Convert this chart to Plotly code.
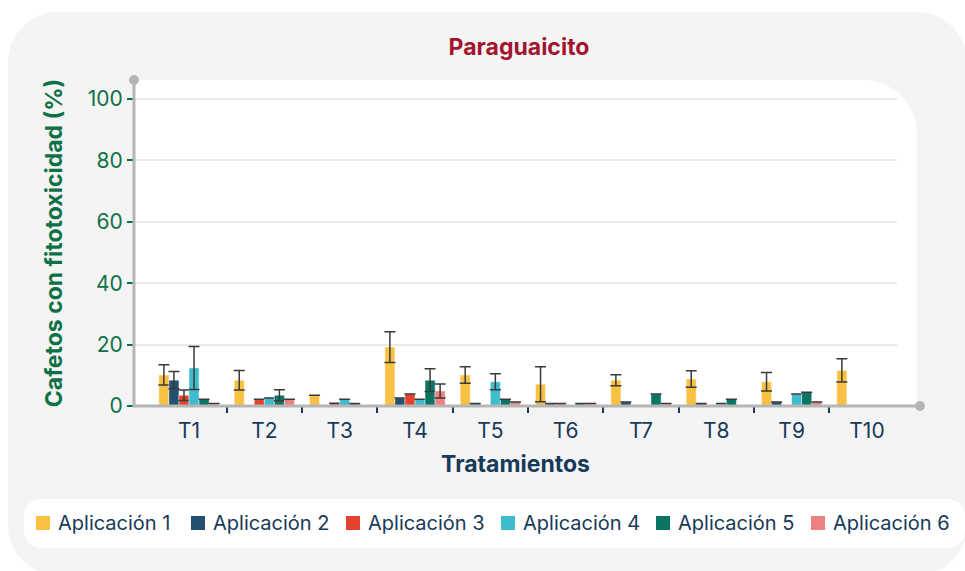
import plotly.graph_objects as go

# ---------------- data ----------------
categories = ["T1", "T2", "T3", "T4", "T5", "T6", "T7", "T8", "T9", "T10"]
series_names = ["Aplicación 1", "Aplicación 2", "Aplicación 3",
                "Aplicación 4", "Aplicación 5", "Aplicación 6"]

aplicacion_1 = [10.1, 8.4, 3.5, 19.2, 10.1, 7.1, 8.4, 8.8, 7.9, 11.6]
aplicacion_2 = [8.4, 0.0, 0.0, 2.6, 0.8, 0.8, 1.3, 0.8, 1.3, 0.0]
aplicacion_3 = [3.5, 2.2, 0.9, 3.9, 0.0, 0.8, 0.0, 0.0, 0.0, 0.0]
aplicacion_4 = [12.4, 2.6, 2.2, 2.2, 7.9, 0.0, 0.0, 0.8, 3.9, 0.0]
aplicacion_5 = [2.2, 3.5, 0.8, 8.4, 2.2, 0.8, 3.9, 2.2, 4.5, 0.0]
aplicacion_6 = [0.8, 2.2, 0.0, 4.9, 1.3, 0.8, 0.8, 0.0, 1.3, 0.0]

error_1 = [3.3, 3.2, None, 5.0, 2.7, 5.7, 1.8, 2.7, 3.0, 3.8]
error_2 = [2.8, None, None, None, None, None, None, None, None, None]
error_3 = [1.7, None, None, None, None, None, None, None, None, None]
error_4 = [7.0, None, None, None, 2.6, None, None, None, None, None]
error_5 = [None, 1.8, None, 3.7, None, None, None, None, None, None]
error_6 = [None, None, None, 2.3, None, None, None, None, None, None]

y_ticks = [0, 20, 40, 60, 80, 100]

series_values = [aplicacion_1, aplicacion_2, aplicacion_3,
                 aplicacion_4, aplicacion_5, aplicacion_6]
series_errors = [error_1, error_2, error_3, error_4, error_5, error_6]

# ---------------- styles ----------------
colors = ["#F9C143", "#23506F", "#E3432C", "#3EBCCC", "#0A7563", "#EC8181"]
GREEN = "#0E7146"
NAVY = "#173A58"
TITLE_RED = "#A3142F"
AXIS_GRAY = "#B5B5B5"
PANEL_GRAY = "#F4F4F4"
FONT = "Inter, Lato, sans-serif"

W, H = 965, 571
PL, PR, PT, PB = 134, 897, 80, 406  # plot area in pixels


def fx(x):
    return (x - PL) / (PR - PL)


def fy(y):
    return (PB - y) / (PB - PT)


def rounded_path(x0, y0, x1, y1, rtl=0, rtr=0, rbr=0, rbl=0):
    k = 0.5523
    p = []
    p.append(f"M{fx(x0 + rtl)},{fy(y0)}")
    p.append(f"L{fx(x1 - rtr)},{fy(y0)}")
    if rtr:
        p.append(f"C{fx(x1 - rtr + k * rtr)},{fy(y0)} {fx(x1)},{fy(y0 + rtr - k * rtr)} {fx(x1)},{fy(y0 + rtr)}")
    p.append(f"L{fx(x1)},{fy(y1 - rbr)}")
    if rbr:
        p.append(f"C{fx(x1)},{fy(y1 - rbr + k * rbr)} {fx(x1 - rbr + k * rbr)},{fy(y1)} {fx(x1 - rbr)},{fy(y1)}")
    p.append(f"L{fx(x0 + rbl)},{fy(y1)}")
    if rbl:
        p.append(f"C{fx(x0 + rbl - k * rbl)},{fy(y1)} {fx(x0)},{fy(y1 - rbl + k * rbl)} {fx(x0)},{fy(y1 - rbl)}")
    p.append(f"L{fx(x0)},{fy(y0 + rtl)}")
    if rtl:
        p.append(f"C{fx(x0)},{fy(y0 + rtl - k * rtl)} {fx(x0 + rtl - k * rtl)},{fy(y0)} {fx(x0 + rtl)},{fy(y0)}")
    p.append("Z")
    return " ".join(p)


x_pos = list(range(len(categories)))

fig = go.Figure()
for name, vals, errs, col in zip(series_names, series_values, series_errors, colors):
    fig.add_trace(go.Bar(
        x=x_pos, y=vals, name=name, showlegend=False,
        marker=dict(color=col, line=dict(width=1, color="rgba(255,255,255,0.45)")),
        error_y=dict(type="data", array=errs, visible=True,
                     color="#3A3A3A", thickness=1.5, width=5.5),
    ))

shapes = [
    # outer grey panel
    dict(type="path", path=rounded_path(8, 12, 967, 575, 50, 50, 50, 50),
         xref="paper", yref="paper", fillcolor=PANEL_GRAY, line=dict(width=0), layer="below"),
    # white plot panel
    dict(type="path", path=rounded_path(PL, PT, 917, PB, 0, 54, 0, 0),
         xref="paper", yref="paper", fillcolor="white", line=dict(width=0), layer="below"),
    # legend box
    dict(type="path", path=rounded_path(24, 499, 965, 548, 17, 17, 17, 17),
         xref="paper", yref="paper", fillcolor="white", line=dict(width=0), layer="below"),
    # axis lines
    dict(type="line", xref="paper", yref="paper", x0=fx(PL), x1=fx(PL), y0=fy(PB + 1), y1=fy(PT),
         line=dict(color=AXIS_GRAY, width=3), layer="above"),
    dict(type="line", xref="paper", yref="paper", x0=fx(PL - 1), x1=fx(920), y0=fy(PB), y1=fy(PB),
         line=dict(color=AXIS_GRAY, width=3), layer="above"),
    # end dots
    dict(type="circle", xref="paper", yref="paper", xsizemode="pixel", ysizemode="pixel",
         xanchor=fx(PL), yanchor=fy(PT), x0=-5, x1=5, y0=-5, y1=5,
         fillcolor=AXIS_GRAY, line=dict(width=0), layer="above"),
    dict(type="circle", xref="paper", yref="paper", xsizemode="pixel", ysizemode="pixel",
         xanchor=fx(920), yanchor=fy(PB), x0=-5, x1=5, y0=-5, y1=5,
         fillcolor=AXIS_GRAY, line=dict(width=0), layer="above"),
]

# legend (squares + labels) in a single row
annotations = []
LEG_X0, LEG_PITCH, LEG_Y, SQ = 36, 155, 523, 14
for i, (name, col) in enumerate(zip(series_names, colors)):
    sx = LEG_X0 + i * LEG_PITCH
    shapes.append(dict(type="rect", xref="paper", yref="paper",
                       x0=fx(sx), x1=fx(sx + SQ), y0=fy(LEG_Y - SQ / 2), y1=fy(LEG_Y + SQ / 2),
                       fillcolor=col, line=dict(width=0), layer="above"))
    annotations.append(dict(text=name, xref="paper", yref="paper",
                            x=fx(sx + SQ + 6), y=fy(LEG_Y), xanchor="left", yanchor="middle",
                            showarrow=False, font=dict(family=FONT, size=20, color=NAVY)))

fig.update_layout(
    width=W, height=H, autosize=False,
    margin=dict(l=PL, r=W - PR, t=PT, b=H - PB, pad=0),
    paper_bgcolor="white", plot_bgcolor="rgba(0,0,0,0)",
    font=dict(family=FONT, color=NAVY),
    barmode="group", bargap=0.2, bargroupgap=0,
    showlegend=False,
    title=dict(text="Paraguaicito", x=519 / W, xanchor="center", xref="container",
               y=1 - 47 / H, yanchor="middle", yref="container",
               font=dict(family=FONT, size=23, color=TITLE_RED, weight=700)),
    xaxis=dict(
        range=[(PL - 189) / 75.33, (PR - 189) / 75.33],
        tickmode="array", tickvals=x_pos, ticktext=categories,
        ticks="outside", ticklen=6, tickcolor="rgba(0,0,0,0)",
        showgrid=False, zeroline=False, showline=False,
        tickfont=dict(family=FONT, size=21, color=NAVY),
        minor=dict(tickmode="array", tickvals=[i + 0.5 for i in x_pos[:-1]],
                   ticks="outside", ticklen=6, tickwidth=2, tickcolor=NAVY, showgrid=False),
        title=dict(text="Tratamientos", standoff=13,
                   font=dict(family=FONT, size=23, color=NAVY, weight=700)),
    ),
    yaxis=dict(
        range=[0, (PB - PT) / 3.07],
        tickmode="array", tickvals=y_ticks,
        ticks="outside", ticklen=6, tickwidth=2, tickcolor=GREEN,
        tickfont=dict(family=FONT, size=21, color=GREEN),
        showgrid=True, gridcolor="#EAEAEA", gridwidth=2,
        zeroline=False, showline=False,
        title=dict(text="Cafetos con fitotoxicidad (%)", standoff=18,
                   font=dict(family=FONT, size=23, color=GREEN, weight=700)),
    ),
    shapes=shapes,
    annotations=annotations,
)

fig.write_html("out.html", config={"displayModeBar": False},
               post_script="document.body.style.margin='0';")
